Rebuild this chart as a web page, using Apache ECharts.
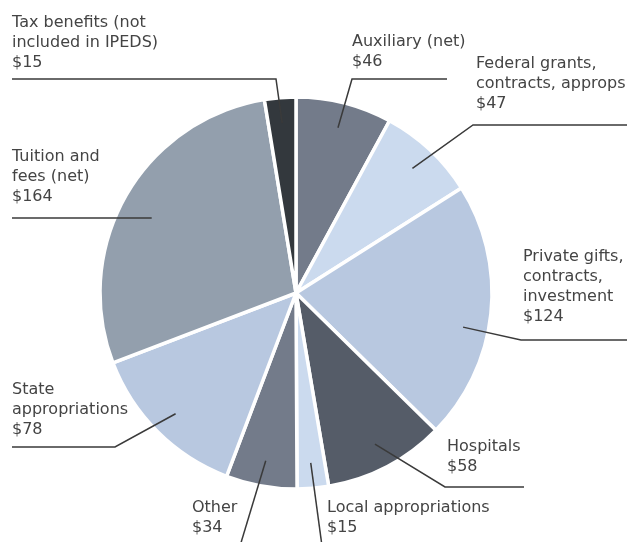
<!DOCTYPE html>
<html>
<head>
<meta charset="utf-8">
<script src="https://cdn.jsdelivr.net/npm/echarts@6/dist/echarts.min.js"></script>
<style>
  html, body { margin: 0; padding: 0; background: #fff; }
  #pie { width: 627px; height: 542px; }
</style>
</head>
<body>
<div id="pie"></div>
<script>
// 数据
const names = [
  "Auxiliary (net)",
  "Federal grants,\ncontracts, approps",
  "Private gifts,\ncontracts,\ninvestment",
  "Hospitals",
  "Local appropriations",
  "Other",
  "State\nappropriations",
  "Tuition and\nfees (net)",
  "Tax benefits (not\nincluded in IPEDS)",
];
const values = [46, 47, 124, 58, 15, 34, 78, 164, 15];
const colors = [
  "#737b8a", "#cbdaee", "#b8c8e0", "#555c68", "#cbdaee",
  "#737b8a", "#b8c8e0", "#939fad", "#33383d",
];

// 标签引线的位置 (折点, 水平线终点x, 文字左上角, 起点半径比例, 起点角度偏移)
const spots = [
  { elbow: [352, 79], end: 447, text: [352, 32] },
  { elbow: [473, 125], end: 627, text: [476, 54] },
  { elbow: [521, 340], end: 627, text: [523, 247], turn: 5.5 },
  { elbow: [445, 487], end: 524, text: [447, 437] },
  { elbow: [322, 546], end: null, text: [327, 498] },
  { elbow: [240, 546], end: null, text: [192, 498] },
  { elbow: [115, 447], end: 12, text: [12, 380] },
  { elbow: null, end: 12, text: [12, 147], k: 0.83, turn: -2.4 },
  { elbow: [276, 79], end: 12, text: [12, 13] },
];

const CX = 296;
const CY = 293;
const R = 196;

const myChart = echarts.init(document.querySelector("#pie"));

function linePoints(params) {
  const i = params.dataIndex;
  const s = spots[i];
  // 扇区中线角度 (优先用 ECharts 给出的外缘点)
  let ang;
  const p0 = params.labelLinePoints && params.labelLinePoints[0];
  if (p0) {
    ang = Math.atan2(p0[0] - CX, CY - p0[1]);
  } else {
    const total = values.reduce((a, b) => a + b, 0);
    const before = values.slice(0, i).reduce((a, b) => a + b, 0);
    ang = ((before + values[i] / 2) / total) * Math.PI * 2;
  }
  ang += ((s.turn || 0) * Math.PI) / 180;
  const r = R * (s.k || 0.87);
  const start = [CX + r * Math.sin(ang), CY - r * Math.cos(ang)];
  if (!s.elbow) return [start, [s.end, start[1]]];
  if (s.end == null) return [start, s.elbow];
  return [start, s.elbow, [s.end, s.elbow[1]]];
}

const pieBase = {
  type: "pie",
  center: [CX, CY],
  radius: R,
  startAngle: 90,
  clockwise: true,
  avoidLabelOverlap: false,
};

const option = {
  animation: false,
  series: [
    // 扇区
    {
      ...pieBase,
      z: 2,
      itemStyle: {
        borderColor: "#fff",
        borderWidth: 3.5,
      },
      label: { show: false },
      labelLine: { show: false },
      data: names.map((name, i) => ({
        name,
        value: values[i],
        itemStyle: { color: colors[i] },
      })),
    },
    // 标签和引线 (透明扇区, 放在上层)
    {
      ...pieBase,
      z: 3,
      silent: true,
      itemStyle: { color: "transparent", borderWidth: 0 },
      label: {
        show: true,
        formatter: "{b}\n${c}",
        fontFamily: "DejaVu Sans",
        fontSize: 16,
        lineHeight: 20,
        color: "#444",
      },
      labelLine: {
        show: true,
        smooth: false,
        lineStyle: { color: "#3a3a3a", width: 1.5 },
      },
      labelLayout: (params) => {
        const s = spots[params.dataIndex];
        return {
          x: s.text[0],
          y: s.text[1],
          align: "left",
          verticalAlign: "top",
          labelLinePoints: linePoints(params),
        };
      },
      data: names.map((name, i) => ({ name, value: values[i] })),
    },
  ],
};
myChart.setOption(option);
</script>
</body>
</html>
